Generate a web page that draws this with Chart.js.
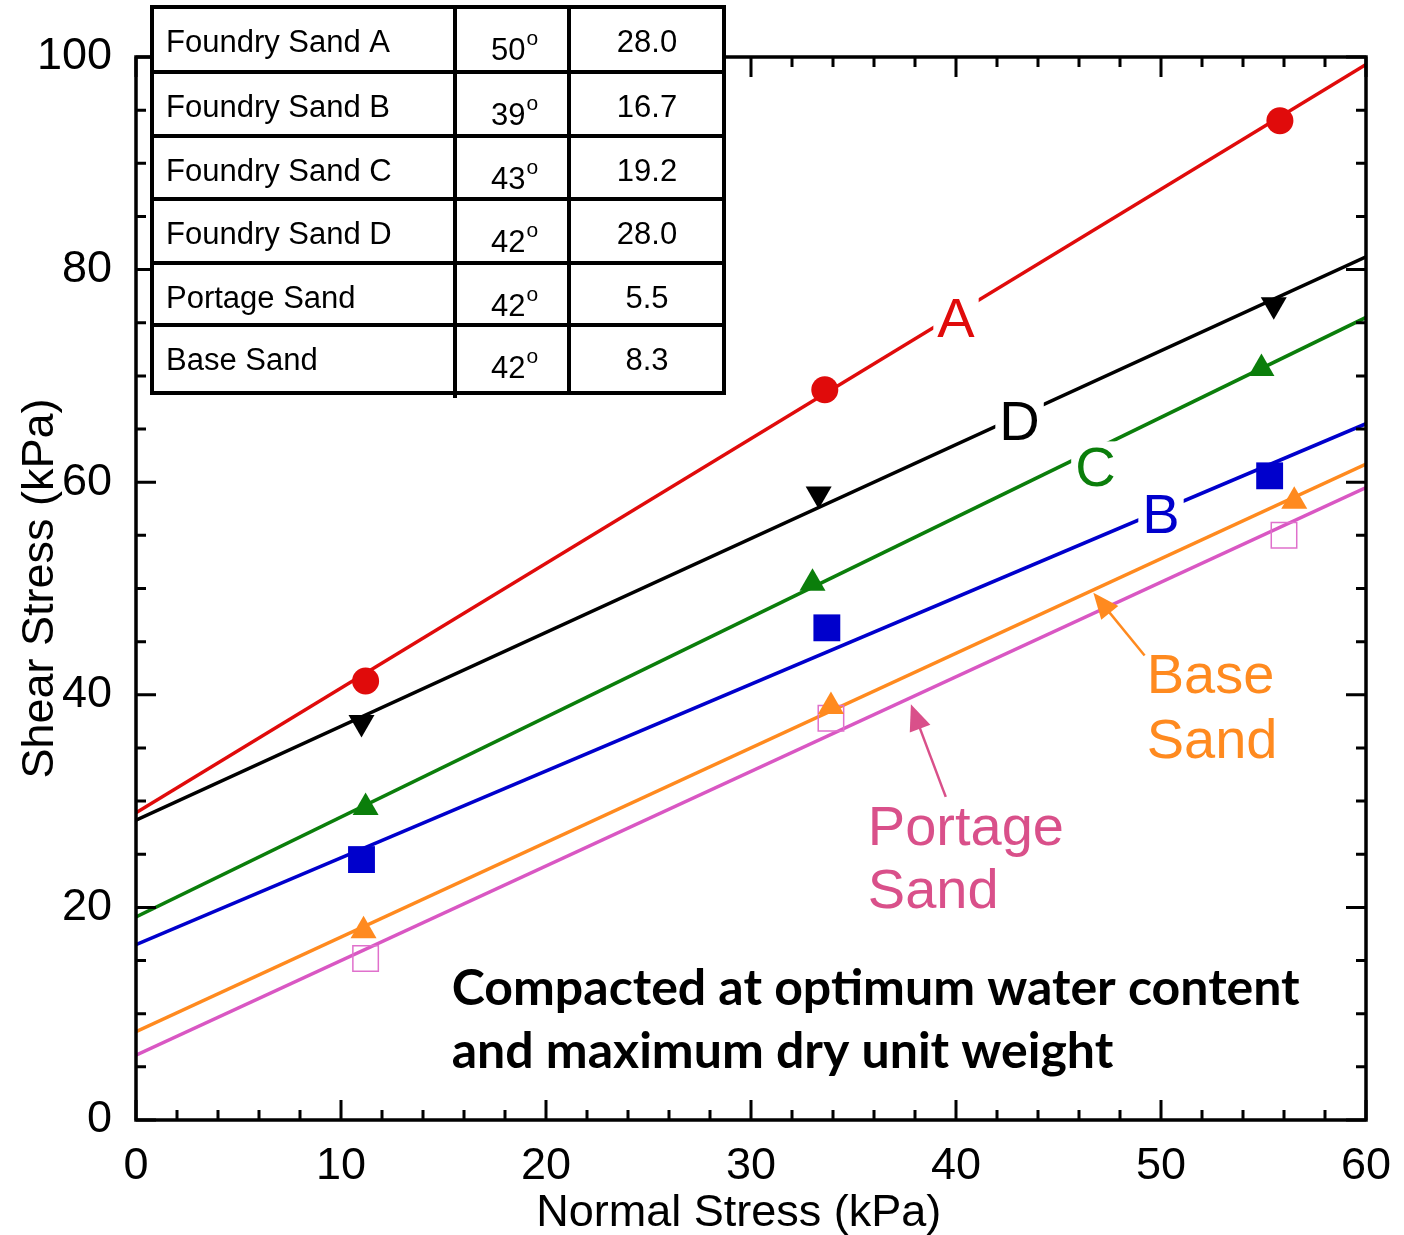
<!DOCTYPE html>
<html>
<head>
<meta charset="utf-8">
<script src="https://cdn.jsdelivr.net/npm/chart.js@4.4.1/dist/chart.umd.min.js"></script>
<style>
  body { margin: 0; background: #fff; }
</style>
</head>
<body>
<canvas id="shear-chart" width="1404" height="1235"></canvas>
<script>
var sandA_x = [11.2, 33.6, 55.8];
var sandA_y = [41.3, 68.7, 94.0];
var sandD_x = [11.0, 33.3, 55.5];
var sandD_y = [37.4, 58.9, 76.7];
var sandC_x = [11.2, 33.0, 54.9];
var sandC_y = [29.4, 50.5, 70.7];
var sandB_x = [11.0, 33.7, 55.3];
var sandB_y = [24.5, 46.3, 60.6];
var baseSand_x = [11.1, 33.9, 56.5];
var baseSand_y = [17.8, 38.9, 58.2];
var portage_x = [11.2, 33.9, 56.0];
var portage_y = [15.2, 37.8, 55.0];

// failure envelopes, read at x = 0 and x = 60
var lineX = [0, 60];
var lineA = [28.9, 99.3];
var lineD = [28.2, 81.2];
var lineC = [19.1, 75.5];
var lineB = [16.5, 65.5];
var lineBase = [8.3, 61.7];
var linePortage = [6.1, 59.5];

// table contents
var tableNames = ["Foundry Sand A", "Foundry Sand B", "Foundry Sand C", "Foundry Sand D", "Portage Sand", "Base Sand"];
var tableAngles = ["50", "39", "43", "42", "42", "42"];
var tableCohesion = ["28.0", "16.7", "19.2", "28.0", "5.5", "8.3"];

var xTicks = [0, 10, 20, 30, 40, 50, 60];
var yTicks = [0, 20, 40, 60, 80, 100];

var RED = "#e00b0b", BLACK = "#000000", GREEN = "#0b7e0b", BLUE = "#0000cc";
var ORANGE = "#ff8a1f", PINK = "#d957c3", PINK_TXT = "#d9508a";
var ARIAL = "'Liberation Sans', Arial, sans-serif";

function pts(xs, ys) {
  return xs.map(function (x, i) { return { x: x, y: ys[i] }; });
}

function envelope(vals, color) {
  return {
    type: "line",
    data: pts(lineX, vals),
    borderColor: color,
    borderWidth: 3.5,
    pointRadius: 0,
    fill: false,
    order: 2
  };
}

function markers(xs, ys, color, style, radius, extra) {
  var ds = {
    type: "scatter",
    data: pts(xs, ys),
    pointStyle: style,
    pointRadius: radius,
    pointHoverRadius: radius,
    backgroundColor: color,
    borderColor: color,
    borderWidth: 0,
    order: 1
  };
  return Object.assign(ds, extra || {});
}

// labels, arrows, ticks, frame and table
let decorations = {
  id: "decorations",
  afterDatasetsDraw(chart) {
    let ctx = chart.ctx;
    let xs = chart.scales.x, ys = chart.scales.y;
    let area = chart.chartArea;
    let px = v => xs.getPixelForValue(v);
    let py = v => ys.getPixelForValue(v);

    ctx.save();

    // curve letters with white background
    let letters = [["A", 40.0, 75.3, RED], ["D", 43.1, 65.6, BLACK], ["C", 46.8, 61.3, GREEN], ["B", 50.0, 56.9, BLUE]];
    ctx.font = "56px " + ARIAL;
    ctx.textAlign = "center";
    ctx.textBaseline = "middle";
    letters.forEach(l => {
      let w = ctx.measureText(l[0]).width;
      ctx.fillStyle = "#fff";
      ctx.fillRect(px(l[1]) - w / 2 - 4, py(l[2]) - 27, w + 8, 54);
      ctx.fillStyle = l[3];
      ctx.fillText(l[0], px(l[1]), py(l[2]) + 2);
    });

    // arrows
    function arrow(x1, y1, x2, y2, color) {
      let ax = px(x1), ay = py(y1), bx = px(x2), by = py(y2);
      let ang = Math.atan2(by - ay, bx - ax);
      let head = 26, hw = 11;
      ctx.strokeStyle = color;
      ctx.fillStyle = color;
      ctx.lineWidth = 2.5;
      ctx.beginPath();
      ctx.moveTo(ax, ay);
      ctx.lineTo(bx - Math.cos(ang) * head * 0.8, by - Math.sin(ang) * head * 0.8);
      ctx.stroke();
      ctx.beginPath();
      ctx.moveTo(bx, by);
      ctx.lineTo(bx - Math.cos(ang) * head - Math.sin(ang) * hw, by - Math.sin(ang) * head + Math.cos(ang) * hw);
      ctx.lineTo(bx - Math.cos(ang) * head + Math.sin(ang) * hw, by - Math.sin(ang) * head - Math.cos(ang) * hw);
      ctx.closePath();
      ctx.fill();
    }
    arrow(49.2, 43.7, 46.7, 49.6, ORANGE);
    arrow(39.5, 30.4, 37.8, 39.1, PINK_TXT);

    ctx.font = "56px " + ARIAL;
    ctx.textAlign = "left";
    ctx.textBaseline = "alphabetic";
    ctx.fillStyle = ORANGE;
    ctx.fillText("Base", px(49.3), py(40.2));
    ctx.fillText("Sand", px(49.3), py(34.1));
    ctx.fillStyle = PINK_TXT;
    ctx.fillText("Portage", px(35.7), py(25.9));
    ctx.fillText("Sand", px(35.7), py(19.9));

    // note
    ctx.fillStyle = "#000";
    ctx.font = "bold 50px Lato, 'Open Sans', sans-serif";
    ctx.fillText("Compacted at optimum water content", px(15.4), py(10.8));
    ctx.fillText("and maximum dry unit weight", px(15.4), py(4.9));

    // x axis title (sits a little left of the plot centre in the original)
    ctx.font = "45px " + ARIAL;
    ctx.textAlign = "center";
    ctx.textBaseline = "middle";
    ctx.fillText("Normal Stress (kPa)", px(29.4), area.bottom + 94);

    // frame
    ctx.strokeStyle = "#000";
    ctx.lineWidth = 3.5;
    ctx.strokeRect(area.left, area.top, area.right - area.left, area.bottom - area.top);

    // inward ticks on all four sides
    ctx.lineWidth = 3;
    ctx.beginPath();
    for (let v = 0; v <= 60; v += 2) {
      let len = v % 10 === 0 ? 20 : 10;
      let x = px(v);
      ctx.moveTo(x, area.bottom); ctx.lineTo(x, area.bottom - len);
      ctx.moveTo(x, area.top); ctx.lineTo(x, area.top + len);
    }
    for (let v = 0; v <= 100; v += 5) {
      let len = v % 20 === 0 ? 20 : 10;
      let y = py(v);
      ctx.moveTo(area.left, y); ctx.lineTo(area.left + len, y);
      ctx.moveTo(area.right, y); ctx.lineTo(area.right - len, y);
    }
    ctx.stroke();

    // table
    let cols = [152, 455, 569, 724];
    let rows = [7, 72, 136, 199, 263, 325, 393];
    ctx.fillStyle = "#fff";
    ctx.fillRect(cols[0], rows[0], cols[3] - cols[0], rows[6] - rows[0]);
    ctx.strokeStyle = "#000";
    ctx.lineWidth = 4;
    ctx.beginPath();
    rows.forEach(r => { ctx.moveTo(cols[0] - 2, r); ctx.lineTo(cols[3] + 2, r); });
    cols.forEach(c => { ctx.moveTo(c, rows[0] - 2); ctx.lineTo(c, rows[6] + 2); });
    ctx.moveTo(cols[1], rows[6]); ctx.lineTo(cols[1], rows[6] + 5);
    ctx.stroke();

    ctx.fillStyle = "#000";
    ctx.textBaseline = "alphabetic";
    tableNames.forEach((name, i) => {
      let top = rows[i];
      ctx.font = "31px " + ARIAL;
      ctx.textAlign = "left";
      ctx.fillText(name, 166, top + 45);
      ctx.textAlign = "center";
      ctx.fillText(tableCohesion[i], 647, top + 45);
      // angle with superscript degree
      ctx.textAlign = "left";
      let w = ctx.measureText(tableAngles[i]).width;
      ctx.fillText(tableAngles[i], 491, top + 53);
      ctx.font = "21px " + ARIAL;
      ctx.fillText("o", 492 + w, top + 38);
    });

    ctx.restore();
  }
};

let shearChart = new Chart("shear-chart", {
  type: "scatter",
  data: {
    datasets: [
      envelope(lineA, RED),
      envelope(lineD, BLACK),
      envelope(lineC, GREEN),
      envelope(lineB, BLUE),
      envelope(lineBase, ORANGE),
      envelope(linePortage, PINK),
      markers(sandA_x, sandA_y, RED, "circle", 13.5),
      markers(sandD_x, sandD_y, BLACK, "triangle", 15, { rotation: 180 }),
      markers(sandC_x, sandC_y, GREEN, "triangle", 15),
      markers(sandB_x, sandB_y, BLUE, "rect", 19),
      markers(baseSand_x, baseSand_y, ORANGE, "triangle", 15),
      markers(portage_x, portage_y, "rgba(0,0,0,0)", "rect", 18, { borderColor: "#e070cc", borderWidth: 1.5 })
    ]
  },
  options: {
    responsive: false,
    animation: false,
    devicePixelRatio: 1,
    layout: { padding: { top: 57, right: 38, left: 0, bottom: 0 } },
    plugins: {
      legend: { display: false },
      tooltip: { enabled: false }
    },
    scales: {
      x: {
        type: "linear",
        min: 0,
        max: 60,
        afterFit: s => { s.height = 115; s.paddingLeft = 0; s.paddingRight = 0; },
        afterBuildTicks: s => { s.ticks = xTicks.map(v => ({ value: v })); },
        grid: { display: false, drawTicks: false },
        border: { display: false },
        ticks: {
          color: "#000",
          padding: 20,
          font: { size: 45, family: ARIAL }
        },
        title: { display: false }
      },
      y: {
        type: "linear",
        min: 0,
        max: 100,
        afterFit: s => { s.width = 136; s.paddingTop = 0; s.paddingBottom = 0; },
        afterBuildTicks: s => { s.ticks = yTicks.map(v => ({ value: v })); },
        grid: { display: false, drawTicks: false },
        border: { display: false },
        ticks: {
          color: "#000",
          padding: 24,
          font: { size: 45, family: ARIAL }
        },
        title: {
          display: true,
          text: "Shear Stress (kPa)",
          color: "#000",
          padding: 18,
          font: { size: 45, family: ARIAL, lineHeight: 1 }
        }
      }
    }
  },
  plugins: [decorations]
});
</script>
</body>
</html>
